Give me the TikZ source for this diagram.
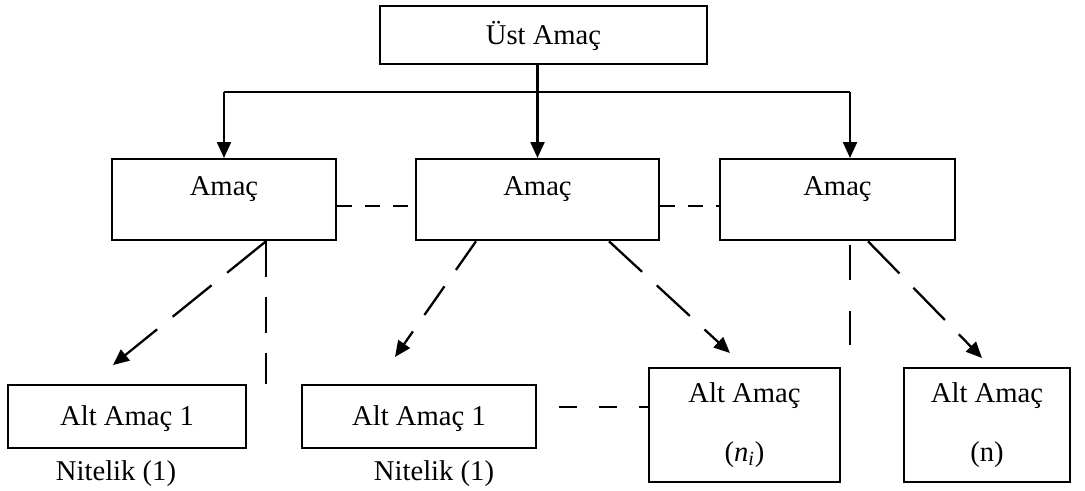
\documentclass[tikz,border=0pt]{standalone}
\usepackage{fontspec}
\setmainfont{Liberation Serif}
\usetikzlibrary{arrows.meta,positioning,calc}

\tikzset{
  kutu/.style={draw, inner xsep=0pt, inner ysep=0pt, anchor=north},
  ok/.style={-{Triangle[length=0.32cm,width=0.28cm]}},
  kesik/.style={dash pattern=on #1 off 0.4cm},
  yatay/.style={dash pattern=on 0.3cm off 0.26cm}
}

\begin{document}
\begin{tikzpicture}[line width=1.3pt, font=\fontsize{16.3}{19.5}\selectfont]
\useasboundingbox (0,0) rectangle (21.7,9.8);

% kutular
\node[kutu, minimum width=6.54cm, text height=0.76cm, text depth=0.4cm] (ust) at (10.87,9.70) {Üst Amaç};
\node[kutu, minimum width=4.48cm, text height=0.72cm, text depth=0.9cm] (amac1) at (4.48,6.64) {Amaç};
\node[kutu, minimum width=4.86cm, text height=0.72cm, text depth=0.9cm] (amac2) at (10.75,6.64) {Amaç};
\node[kutu, minimum width=4.70cm, text height=0.72cm, text depth=0.9cm] (amac3) at (16.75,6.64) {Amaç};
\node[kutu, minimum width=4.76cm, text height=0.8cm, text depth=0.46cm] (alt1) at (2.54,2.12) {Alt Amaç 1};
\node[kutu, minimum width=4.68cm, text height=0.8cm, text depth=0.46cm] (alt2) at (8.38,2.12) {Alt Amaç 1};
\node[kutu, minimum width=3.82cm, minimum height=2.28cm, align=center] (altni) at (14.89,2.46) {Alt Amaç\\[0.49cm](\textit{n}\textsubscript{\textit{i}})};
\node[kutu, minimum width=3.32cm, minimum height=2.28cm, align=center] (altn) at (19.74,2.46) {Alt Amaç\\[0.49cm](n)};
\node[anchor=base] (nit1) at (2.32,0.2) {Nitelik (1)};
\node[anchor=base] (nit2) at (8.68,0.2) {Nitelik (1)};

% oklar
\coordinate (bus) at (0,7.96);
\coordinate (sag) at ([xshift=0.25cm]amac3.north);
\draw[ok] (amac2.north |- ust.south) -- (amac2.north);
\draw (amac1.north |- bus) -- (sag |- bus);
\draw[ok] (amac1.north |- bus) -- (amac1.north);
\draw[ok] (sag |- bus) -- (sag);

% kesikli cizgiler
\draw[yatay] ([yshift=-0.13cm]amac1.east) coordinate (a1) -- (a1 -| amac2.west);
\draw[yatay] ([yshift=-0.13cm]amac2.east) coordinate (a2) -- (a2 -| amac3.west);
\draw[dash pattern=on 0.36cm off 0.44cm, dash phase=0.36cm] ([yshift=0.19cm]alt2.east) coordinate (b1) -- (b1 -| altni.west);

\draw[kesik=1cm, ok] ([xshift=0.84cm]amac1.south) -- ([xshift=-0.28cm,yshift=0.38cm]alt1.north);
\draw[dash pattern=on 0.72cm off 0.4cm] ([xshift=0.84cm]amac1.south) coordinate (v1) -- (v1 |- alt1.north);
\draw[kesik=0.7cm, ok] ([xshift=-1.23cm]amac2.south) -- ([xshift=-0.48cm,yshift=0.54cm]alt2.north);
\draw[kesik=0.9cm, ok] ([xshift=1.43cm]amac2.south) -- ([xshift=-0.29cm,yshift=0.28cm]altni.north);
\draw[kesik=0.9cm, ok] ([xshift=0.61cm]amac3.south) -- ([xshift=-0.1cm,yshift=0.18cm]altn.north);
\draw[dash pattern=on 0.7cm off 0.62cm] ($(amac3.south)+(0.25,-0.08)$) -- ($(amac3.south |- altn.north)+(0.25,0.44)$);
\end{tikzpicture}
\end{document}
